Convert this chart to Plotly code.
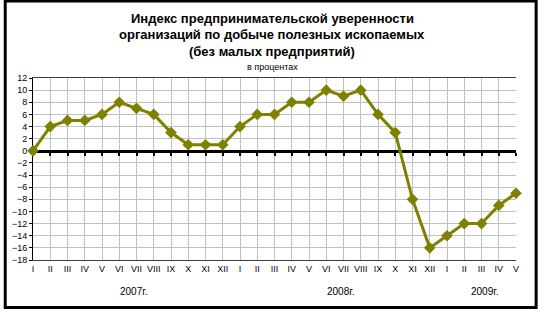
import plotly.graph_objects as go

months = ["I","II","III","IV","V","VI","VII","VIII","IX","X","XI","XII",
          "I","II","III","IV","V","VI","VII","VIII","IX","X","XI","XII",
          "I","II","III","IV","V"]
values = [0,4,5,5,6,8,7,6,3,1,1,1,
          4,6,6,8,8,10,9,10,6,3,-8,-16,
          -14,-12,-12,-9,-7]
years = ["2007г.", "2008г.", "2009г."]
year_pos = [5.8, 17.8, 26.2]
y_ticks = list(range(-18, 13, 2))

x = list(range(len(values)))

W, H = 539, 309
ml, mr, mt, mb = 29, 23, 78, 49
pw, ph = W - ml - mr, H - mt - mb

def px_x(p):
    return (p - ml) / pw

def px_y(p):
    return (H - mb - p) / ph

fig = go.Figure()
# invisible trace so the label axis gets drawn
fig.add_trace(go.Scatter(
    x=x, y=values, mode="lines", line=dict(color="rgba(0,0,0,0)", width=0),
    hoverinfo="skip", showlegend=False, xaxis="x2", yaxis="y"))
fig.add_trace(go.Scatter(
    x=x, y=values, mode="lines+markers",
    line=dict(color="#808000", width=3),
    marker=dict(symbol="diamond", size=9, color="#808000"),
    cliponaxis=False, showlegend=False, xaxis="x", yaxis="y"))

fig.update_layout(
    width=W, height=H, margin=dict(l=ml, r=mr, t=mt, b=mb),
    paper_bgcolor="white", plot_bgcolor="white",
    font=dict(family="Liberation Sans, Arial", size=9, color="black"),
    xaxis=dict(range=[0, len(values) - 1], anchor="free", position=18 / 30,
               tickvals=x, showticklabels=False, ticks="outside", ticklen=3,
               tickwidth=2, tickcolor="black", showline=True, linecolor="black",
               linewidth=3, showgrid=True, gridcolor="#c0c0c0", gridwidth=1,
               zeroline=False, layer="below traces"),
    xaxis2=dict(range=[0, len(values) - 1], overlaying="x", anchor="y", side="bottom",
                tickvals=x, ticktext=months, showgrid=False, ticks="",
                showline=True, mirror=True, linecolor="#404040", linewidth=1,
                tickfont=dict(size=9), zeroline=False, layer="below traces"),
    yaxis=dict(range=[-18, 12], tickvals=y_ticks, ticks="outside", ticklen=3,
               tickcolor="black", showline=True, linecolor="black", linewidth=1,
               showgrid=True, gridcolor="#c0c0c0", zeroline=False,
               tickfont=dict(size=9), layer="below traces"),
)

titles = ["Индекс предпринимательской уверенности",
          "организаций по добыче полезных ископаемых",
          "(без малых предприятий)"]
title_y = [18, 35, 51]
for t, yy in zip(titles, title_y):
    fig.add_annotation(text="<b>" + t + "</b>", x=px_x(270), y=px_y(yy),
                       xref="paper", yref="paper", showarrow=False,
                       font=dict(size=13), xanchor="center", yanchor="middle")
fig.add_annotation(text="в процентах", x=px_x(270), y=px_y(67), xref="paper", yref="paper",
                   showarrow=False, font=dict(size=9), xanchor="center", yanchor="middle")

for yr, pos in zip(years, year_pos):
    fig.add_annotation(text=yr, x=pos, y=px_y(291), xref="x2", yref="paper",
                       showarrow=False, font=dict(size=10), xanchor="center", yanchor="middle")

fig.add_shape(type="rect", xref="paper", yref="paper",
              x0=px_x(1), x1=px_x(536.3), y0=px_y(1), y1=px_y(307.5),
              line=dict(color="black", width=3), layer="above")

fig.write_html("out.html")
